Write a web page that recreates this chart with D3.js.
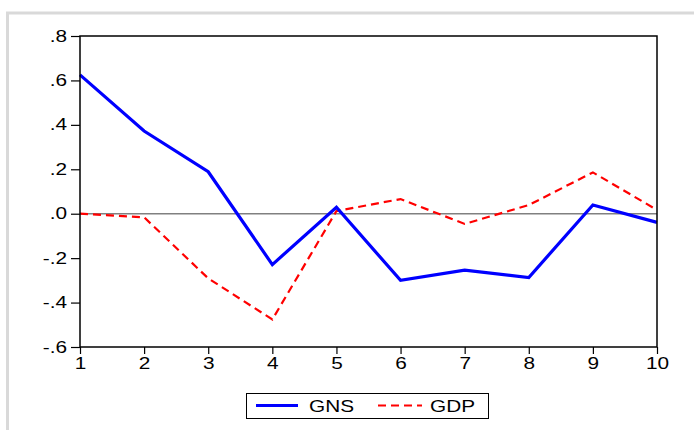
<!DOCTYPE html>
<html>
<head>
<meta charset="utf-8">
<script src="https://cdn.jsdelivr.net/npm/d3@7"></script>
<style>
    body { margin: 0; background: #fff; }
    svg text { font-family: "Liberation Sans", Arial, sans-serif; }
</style>
</head>
<body>
<svg id="chart" width="694" height="430"></svg>
<script>
var periods = [1, 2, 3, 4, 5, 6, 7, 8, 9, 10];
var gns = [0.625, 0.372, 0.189, -0.229, 0.029, -0.300, -0.254, -0.287, 0.039, -0.039];
var gdp = [0.0, -0.016, -0.291, -0.476, 0.012, 0.066, -0.046, 0.039, 0.186, 0.017];
var yticks = [0.8, 0.6, 0.4, 0.2, 0.0, -0.2, -0.4, -0.6];
var ytick_labels = ['.8', '.6', '.4', '.2', '.0', '-.2', '-.4', '-.6'];
var series_names = ['GNS', 'GDP'];

var svg = d3.select('#chart');
var plot_l = 80, plot_r = 657, plot_t = 36, plot_b = 347;
var sx = 1.3; // eviews graph is stretched sideways

// outer grey frame
svg.append('rect')
    .attr('x', 7.5).attr('y', 13)
    .attr('width', 700).attr('height', 430)
    .attr('fill', 'none')
    .attr('stroke', '#d9d9d9')
    .attr('stroke-width', 3);

var x = d3.scaleLinear().domain([1, 10]).range([plot_l, plot_r]);
var y = d3.scaleLinear().domain([-0.6, 0.8]).range([plot_b, plot_t]);

// y axis
var yAxis = svg.append('g')
    .attr('transform', 'translate(' + plot_l + ',0)')
    .call(d3.axisLeft(y).tickValues(yticks).tickSize(9).tickPadding(4)
        .tickFormat(function(d, i) { return ytick_labels[i]; }));
yAxis.select('.domain').remove();
yAxis.selectAll('.tick line').attr('stroke', '#000').attr('stroke-width', 1.2);
yAxis.selectAll('.tick text')
    .attr('font-size', 16).attr('fill', '#000')
    .attr('transform', function() {
        var tx = +d3.select(this).attr('x');
        return 'translate(' + tx + ',0) scale(' + sx + ',1) translate(' + (-tx) + ',0)';
    });

// x axis
var xAxis = svg.append('g')
    .attr('transform', 'translate(0,' + plot_b + ')')
    .call(d3.axisBottom(x).tickValues(periods).tickSize(7).tickPadding(4)
        .tickFormat(d3.format('d')));
xAxis.select('.domain').remove();
xAxis.selectAll('.tick line').attr('stroke', '#000').attr('stroke-width', 1.2);
xAxis.selectAll('.tick text')
    .attr('font-size', 16).attr('fill', '#000')
    .attr('transform', 'scale(' + sx + ',1)');

// zero line
svg.append('line')
    .attr('x1', plot_l).attr('x2', plot_r)
    .attr('y1', y(0)).attr('y2', y(0))
    .attr('stroke', '#808080').attr('stroke-width', 1.5);

var line = d3.line()
    .x(function(d, i) { return x(periods[i]); })
    .y(function(d) { return y(d); });

svg.append('path')
    .datum(gdp)
    .attr('d', line)
    .attr('fill', 'none')
    .attr('stroke', '#ff0000')
    .attr('stroke-width', 2.2)
    .attr('stroke-dasharray', '8,5');

svg.append('path')
    .datum(gns)
    .attr('d', line)
    .attr('fill', 'none')
    .attr('stroke', '#0000ff')
    .attr('stroke-width', 3.2)
    .attr('stroke-linejoin', 'miter');

// plot frame
svg.append('rect')
    .attr('x', plot_l).attr('y', plot_t)
    .attr('width', plot_r - plot_l).attr('height', plot_b - plot_t)
    .attr('fill', 'none')
    .attr('stroke', '#000')
    .attr('stroke-width', 1.5);

// legend
var legend = svg.append('g');
legend.append('rect')
    .attr('x', 246.5).attr('y', 393.5)
    .attr('width', 242).attr('height', 25)
    .attr('fill', '#fff').attr('stroke', '#000').attr('stroke-width', 1);

var items = [
    { name: series_names[0], color: '#0000ff', w: 3.2, dash: null, x0: 256, x1: 298, tx: 309 },
    { name: series_names[1], color: '#ff0000', w: 2.2, dash: '8,5', x0: 378, x1: 422, tx: 430 }
];
items.forEach(function(it) {
    legend.append('line')
        .attr('x1', it.x0).attr('x2', it.x1)
        .attr('y1', 405.5).attr('y2', 405.5)
        .attr('stroke', it.color)
        .attr('stroke-width', it.w)
        .attr('stroke-dasharray', it.dash);
    legend.append('text')
        .attr('x', 0).attr('y', 0)
        .attr('transform', 'translate(' + it.tx + ',411.5) scale(' + sx + ',1)')
        .attr('font-size', 16)
        .attr('fill', '#000')
        .text(it.name);
});
</script>
</body>
</html>
